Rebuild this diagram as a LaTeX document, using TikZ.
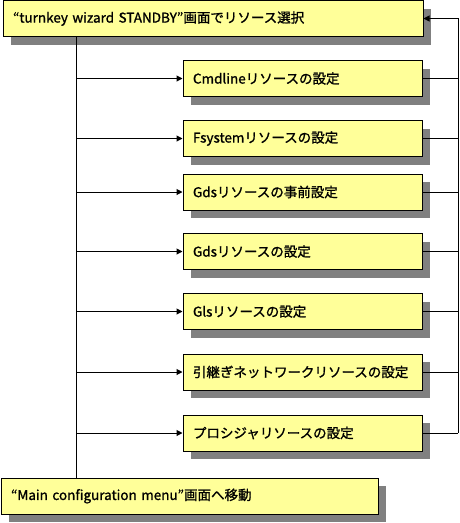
\documentclass[tikz,border=0pt]{standalone}
\usepackage{fontspec}
\setmainfont{Noto Sans CJK JP}
\usetikzlibrary{shadows,arrows.meta}
\definecolor{boxfill}{RGB}{255,255,153}
\definecolor{shadowgray}{RGB}{128,128,128}
\begin{document}
\begin{tikzpicture}[x=1pt,y=-1pt,
  box/.style={draw=black, line width=1pt, fill=boxfill,
    drop shadow={shadow xshift=8pt, shadow yshift=-8pt, fill=shadowgray, opacity=1},
    inner xsep=10pt, inner ysep=0pt, minimum height=36pt, align=left,
    font=\fontsize{13.5pt}{16pt}\selectfont\addfontfeature{FakeBold=1.2}},
  resbox/.style={box, text width=219pt},
  conn/.style={line width=1pt},
  arr/.style={conn, -{Triangle[length=6pt,width=6pt]}}]
\useasboundingbox (0,0) rectangle (459,523);
\node[box, text width=400pt] (top) at (213,18.5) {“turnkey wizard STANDBY”画面でリソース選択};
\node[resbox] (r1) at (302.5,78.5) {Cmdlineリソースの設定};
\node[resbox] (r2) at (302.5,138.5) {Fsystemリソースの設定};
\node[resbox] (r3) at (302.5,192) {Gdsリソースの事前設定};
\node[resbox] (r4) at (302.5,251.5) {Gdsリソースの設定};
\node[resbox] (r5) at (302.5,311.5) {Glsリソースの設定};
\node[resbox] (r6) at (302.5,372) {引継ぎネットワークリソースの設定};
\node[resbox] (r7) at (302.5,433) {プロシジャリソースの設定};
\node[box, text width=357pt] (main) at (189.5,496) {“Main configuration menu”画面へ移動};
\coordinate (sx) at (76,0);
\coordinate (rx) at (458,0);
\draw[conn] (sx |- top.south) -- (sx |- main.north);
\foreach \n in {r1,r2,r3,r4,r5,r6,r7}{
  \draw[arr] (sx |- \n.west) -- (\n.west);
  \draw[conn] (\n.east) -- (rx |- \n.east);
}
\draw[arr] (rx |- r7.east) -- (rx |- top.east) -- (top.east);
\end{tikzpicture}
\end{document}
